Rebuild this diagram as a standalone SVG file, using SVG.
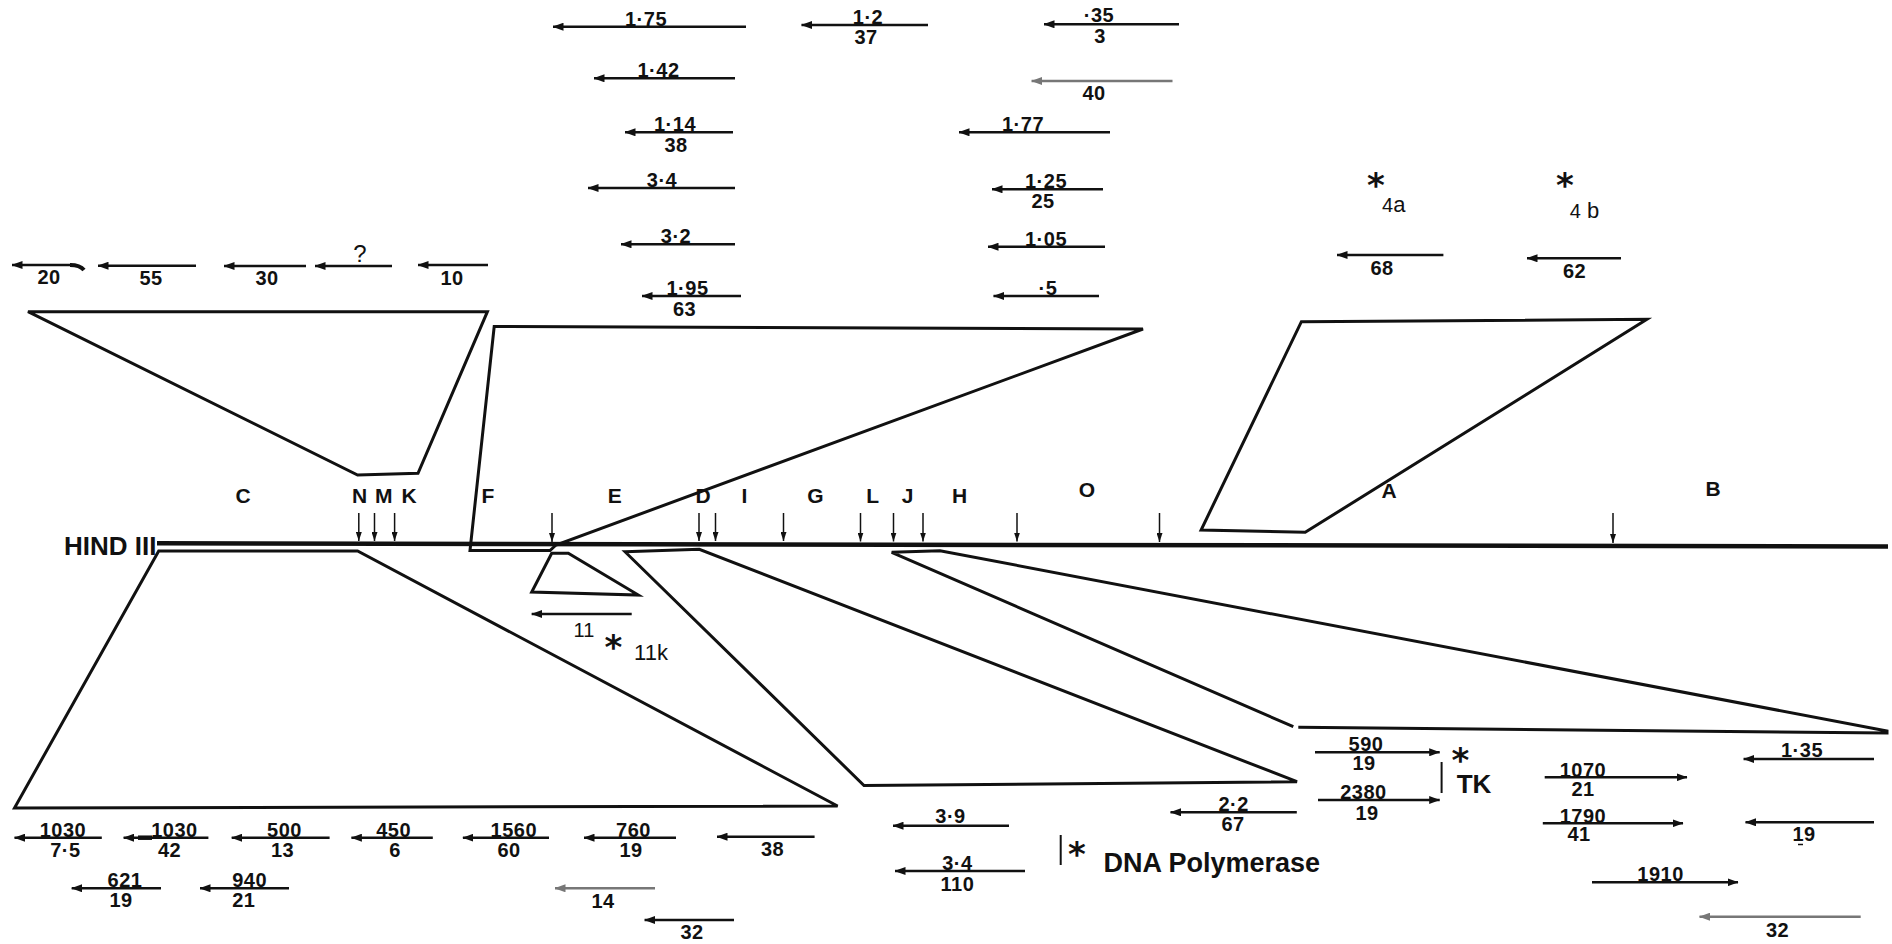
<svg xmlns="http://www.w3.org/2000/svg" width="1892" height="944" viewBox="0 0 1892 944">
<defs>
<style>
.ln{fill:none;stroke:#111;stroke-width:3;stroke-linejoin:miter}
.ml{fill:none;stroke:#111;stroke-width:4.5}
.ar{stroke:#111;stroke-width:2.5;marker-end:url(#ah)}
.arg{stroke:#777;stroke-width:2.5;marker-end:url(#ahg)}
.tk{stroke:#111;stroke-width:1.5;marker-end:url(#tkh)}
.bar{stroke:#111;stroke-width:2}
.n{font-family:"Liberation Sans Narrow","Liberation Sans",sans-serif;font-weight:bold;font-size:20px;text-anchor:middle;fill:#111;letter-spacing:0.5px}
.lb{font-family:"Liberation Sans",Arial,sans-serif;font-size:22px;text-anchor:middle;fill:#111}
.fl{font-weight:bold;font-size:21px}
.b{font-weight:bold}
.st{font-family:"DejaVu Sans",sans-serif;font-weight:bold;font-size:34px;text-anchor:middle;fill:#111}
</style>
<marker id="ah" viewBox="0 0 11 8" refX="10.5" refY="4" markerWidth="11" markerHeight="8" markerUnits="userSpaceOnUse" orient="auto"><path d="M0,0 L11,4 L0,8 Z" fill="#111"/></marker>
<marker id="ahg" viewBox="0 0 11 8" refX="10.5" refY="4" markerWidth="11" markerHeight="8" markerUnits="userSpaceOnUse" orient="auto"><path d="M0,0 L11,4 L0,8 Z" fill="#777"/></marker>
<marker id="tkh" viewBox="0 0 9 6" refX="9" refY="3" markerWidth="9" markerHeight="6" markerUnits="userSpaceOnUse" orient="auto"><path d="M0,0 L9,3 L0,6 Z" fill="#111"/></marker>
</defs>
<rect width="1892" height="944" fill="#fff"/>

<g id="map">
<text class="lb b" x="64" y="555" style="text-anchor:start;font-size:26px">HIND III</text>
<path class="ml" d="M157,543.3 L1888,546.5"/>
<g id="ticks">
<line class="tk" x1="358.8" y1="513" x2="358.8" y2="541"/>
<line class="tk" x1="374.5" y1="513" x2="374.5" y2="541"/>
<line class="tk" x1="394.6" y1="513" x2="394.6" y2="541"/>
<line class="tk" x1="552" y1="513" x2="552" y2="542"/>
<line class="tk" x1="699" y1="513" x2="699" y2="541"/>
<line class="tk" x1="715.5" y1="513" x2="715.5" y2="541"/>
<line class="tk" x1="783.5" y1="513" x2="783.5" y2="541"/>
<line class="tk" x1="860.5" y1="513" x2="860.5" y2="541.5"/>
<line class="tk" x1="893.5" y1="513" x2="893.5" y2="541.5"/>
<line class="tk" x1="923" y1="513" x2="923" y2="541.5"/>
<line class="tk" x1="1017" y1="513" x2="1017" y2="541.5"/>
<line class="tk" x1="1159.5" y1="513" x2="1159.5" y2="542"/>
<line class="tk" x1="1613" y1="513" x2="1613" y2="543"/>
</g>
<g id="fragment-letters">
<text class="lb fl" x="243" y="503">C</text>
<text class="lb fl" x="359.6" y="503">N</text>
<text class="lb fl" x="383.7" y="503">M</text>
<text class="lb fl" x="409" y="503">K</text>
<text class="lb fl" x="488" y="503">F</text>
<text class="lb fl" x="614.7" y="503">E</text>
<text class="lb fl" x="703" y="503">D</text>
<text class="lb fl" x="744.5" y="503">I</text>
<text class="lb fl" x="815.5" y="503">G</text>
<text class="lb fl" x="872.7" y="503">L</text>
<text class="lb fl" x="907.5" y="503">J</text>
<text class="lb fl" x="959.7" y="503">H</text>
<text class="lb fl" x="1087" y="497">O</text>
<text class="lb fl" x="1389" y="498">A</text>
<text class="lb fl" x="1713" y="496">B</text>
</g>
</g>

<g id="connectors">
<path id="poly-C-top" class="ln" d="M28,311.7 L487.4,311.7 L418,473.3 L357.6,475 Z"/>
<path id="poly-F-top" class="ln" d="M470,550.5 L494.2,326.5 L1143,329 L556,545 L550,550.5 Z"/>
<path id="poly-A-top" class="ln" d="M1301.4,321.7 L1646.9,319.3 L1305.2,532.3 L1201.1,530 Z"/>
<path id="poly-C-bottom" class="ln" d="M158.7,551 L357.6,551 L837.6,806 L14.5,808 Z"/>
<path id="poly-E-bottom" class="ln" d="M551.7,553.3 L568.3,553.3 L638.3,595 L531.7,592 Z"/>
<path id="poly-D-bottom" class="ln" d="M625,551.7 L699.3,549.3 L1297,781.7 L864,785.5 Z"/>
<path id="poly-J-bottom" class="ln" d="M1293.3,726.7 L891.7,552.3 L940,550.7 L1887,731 L1887,733 L1298.3,727.3"/>
</g>

<g id="top-left-arrows">
<g id="a20"><line class="ar" x1="72" y1="265" x2="12" y2="265"/><path d="M70,265 Q80,265 84,270" fill="none" stroke="#111" stroke-width="4"/><text class="n" x="49" y="284">20</text></g>
<g id="a55"><line class="ar" x1="196" y1="265.7" x2="98" y2="265.7"/><text class="n" x="151" y="285">55</text></g>
<g id="a30"><line class="ar" x1="306" y1="266" x2="224" y2="266"/><text class="n" x="267" y="285">30</text></g>
<g id="aQ"><line class="ar" x1="392" y1="266" x2="315" y2="266"/><text class="lb" x="360" y="262" style="font-size:24px">?</text></g>
<g id="a10"><line class="ar" x1="488" y1="265" x2="418" y2="265"/><text class="n" x="452" y="285">10</text></g>
</g>

<g id="top-mid-arrows">
<g id="a175"><line class="ar" x1="746" y1="26.7" x2="553" y2="26.7"/><text class="n" x="646" y="25.7">1·75</text></g>
<g id="a142"><line class="ar" x1="735" y1="78.3" x2="594" y2="78.3"/><text class="n" x="658.5" y="77.3">1·42</text></g>
<g id="a114"><line class="ar" x1="733" y1="132.3" x2="625" y2="132.3"/><text class="n" x="675" y="131.3">1·14</text><text class="n" x="676" y="151.5">38</text></g>
<g id="a34t"><line class="ar" x1="735" y1="188" x2="588" y2="188"/><text class="n" x="662" y="187">3·4</text></g>
<g id="a32t"><line class="ar" x1="735" y1="244.3" x2="621" y2="244.3"/><text class="n" x="676" y="243.3">3·2</text></g>
<g id="a195"><line class="ar" x1="741" y1="296" x2="642" y2="296"/><text class="n" x="687.5" y="295">1·95</text><text class="n" x="684.6" y="316">63</text></g>
<g id="a12"><line class="ar" x1="928" y1="25" x2="801.5" y2="25"/><text class="n" x="868" y="24">1·2</text><text class="n" x="866" y="43.5">37</text></g>
<g id="a035"><line class="ar" x1="1179" y1="24.3" x2="1044" y2="24.3"/><text class="n" x="1099" y="22">·35</text><text class="n" x="1100" y="43">3</text></g>
<g id="a40"><line class="arg" x1="1172.5" y1="81" x2="1031.6" y2="81"/><text class="n" x="1094" y="100">40</text></g>
<g id="a177"><line class="ar" x1="1110" y1="132.3" x2="959" y2="132.3"/><text class="n" x="1023" y="131.3">1·77</text></g>
<g id="a125"><line class="ar" x1="1103" y1="189.3" x2="992" y2="189.3"/><text class="n" x="1046" y="188.3">1·25</text><text class="n" x="1043" y="207.5">25</text></g>
<g id="a105"><line class="ar" x1="1105" y1="246.7" x2="988" y2="246.7"/><text class="n" x="1046" y="245.7">1·05</text></g>
<g id="a05"><line class="ar" x1="1099" y1="296" x2="993.5" y2="296"/><text class="n" x="1048" y="295">·5</text></g>
</g>

<g id="top-right">
<text class="st" x="1376" y="197">*</text>
<text class="lb" x="1393.7" y="212"><tspan style="font-size:20px">4</tspan>a</text>
<text class="st" x="1565" y="197">*</text>
<text class="lb" x="1584.4" y="218"><tspan style="font-size:20px">4</tspan> b</text>
<g id="a68"><line class="ar" x1="1443.4" y1="255" x2="1337" y2="255"/><text class="n" x="1382" y="274.5">68</text></g>
<g id="a62"><line class="ar" x1="1621" y1="258.3" x2="1527" y2="258.3"/><text class="n" x="1574.5" y="278">62</text></g>
</g>

<g id="e-fragment">
<g id="a11"><line class="ar" x1="631.7" y1="614" x2="531.7" y2="614"/><text class="lb" x="584" y="637" style="font-size:20px">11</text></g>
<text class="st" x="613.3" y="658.5">*</text>
<text class="lb" x="651" y="660">11k</text>
</g>

<g id="bottom-left-arrows">
<g id="b1030a"><line class="ar" x1="101.8" y1="837.7" x2="14.5" y2="837.7"/><text class="n" x="63" y="836.7">1030</text><text class="n" x="65.4" y="856.5">7·5</text></g>
<g id="b1030b"><line class="ar" x1="208.4" y1="837.7" x2="123.6" y2="837.7"/><line x1="138" y1="837.7" x2="152" y2="837.7" stroke="#111" stroke-width="4.5"/><text class="n" x="174.5" y="836.7">1030</text><text class="n" x="169.6" y="856.5">42</text></g>
<g id="b500"><line class="ar" x1="329.6" y1="837.7" x2="231.7" y2="837.7"/><text class="n" x="284.5" y="836.7">500</text><text class="n" x="282.6" y="856.5">13</text></g>
<g id="b450"><line class="ar" x1="432.8" y1="837.7" x2="351.4" y2="837.7"/><text class="n" x="393.6" y="836.7">450</text><text class="n" x="395" y="856.5">6</text></g>
<g id="b1560"><line class="ar" x1="549" y1="837.7" x2="462.9" y2="837.7"/><text class="n" x="513.8" y="836.7">1560</text><text class="n" x="509" y="856.5">60</text></g>
<g id="b760"><line class="ar" x1="676" y1="837.7" x2="584" y2="837.7"/><text class="n" x="633.5" y="836.7">760</text><text class="n" x="631" y="856.5">19</text></g>
<g id="b38"><line class="ar" x1="814.6" y1="836.7" x2="717" y2="836.7"/><text class="n" x="772.5" y="855.5">38</text></g>
<g id="b621"><line class="ar" x1="161" y1="888.3" x2="71.7" y2="888.3"/><text class="n" x="125" y="887.3">621</text><text class="n" x="121" y="907">19</text></g>
<g id="b940"><line class="ar" x1="289" y1="888.3" x2="200" y2="888.3"/><text class="n" x="249.6" y="887.3">940</text><text class="n" x="243.8" y="907">21</text></g>
<g id="b14"><line class="arg" x1="655" y1="888.3" x2="555" y2="888.3"/><text class="n" x="603" y="907.5">14</text></g>
<g id="b32"><line class="ar" x1="734" y1="920" x2="644.6" y2="920"/><text class="n" x="692" y="938.5">32</text></g>
</g>

<g id="bottom-mid-arrows">
<g id="b39"><line class="ar" x1="1009" y1="825.7" x2="893" y2="825.7"/><text class="n" x="950.5" y="822.7">3·9</text></g>
<g id="b34"><line class="ar" x1="1025" y1="871" x2="895" y2="871"/><text class="n" x="957.4" y="870">3·4</text><text class="n" x="957.4" y="890.5">110</text></g>
<g id="dna-pol"><line class="bar" x1="1060.7" y1="835" x2="1060.7" y2="865"/><text class="st" x="1077" y="865.5">*</text><text class="lb b" x="1103.5" y="872" style="text-anchor:start;font-size:27px">DNA Polymerase</text></g>
<g id="b22"><line class="ar" x1="1296.8" y1="812.3" x2="1170.5" y2="812.3"/><text class="n" x="1233.6" y="810.7">2·2</text><text class="n" x="1233" y="830.5">67</text></g>
</g>

<g id="bottom-right-arrows">
<g id="b590"><line class="ar" x1="1315" y1="752.3" x2="1439.7" y2="752.3"/><text class="n" x="1366" y="750.5">590</text><text class="n" x="1364" y="770">19</text></g>
<g id="b2380"><line class="ar" x1="1318" y1="800" x2="1439.7" y2="800"/><text class="n" x="1363.4" y="799">2380</text><text class="n" x="1367" y="820">19</text></g>
<g id="tk-label"><line class="bar" x1="1441.6" y1="762" x2="1441.6" y2="793"/><text class="st" x="1460.5" y="772">*</text><text class="lb b" x="1456.7" y="793" style="text-anchor:start;font-size:26px">TK</text></g>
<g id="b1070"><line class="ar" x1="1544.7" y1="777.3" x2="1687" y2="777.3"/><text class="n" x="1583" y="776.5">1070</text><text class="n" x="1583" y="796">21</text></g>
<g id="b1790"><line class="ar" x1="1542.8" y1="823.3" x2="1683" y2="823.3"/><text class="n" x="1583" y="822.5">1790</text><text class="n" x="1579" y="841">41</text></g>
<g id="b135"><line class="ar" x1="1874" y1="759" x2="1743.6" y2="759"/><text class="n" x="1802" y="757">1·35</text></g>
<g id="b19r"><line class="ar" x1="1874" y1="822.3" x2="1745.5" y2="822.3"/><text class="n" x="1804" y="840.5">19</text><line x1="1798" y1="844.5" x2="1803" y2="844.5" stroke="#111" stroke-width="1.5"/></g>
<g id="b1910"><line class="ar" x1="1592" y1="882.3" x2="1738" y2="882.3"/><text class="n" x="1660.6" y="880.7">1910</text></g>
<g id="b32r"><line class="arg" x1="1860.7" y1="916.7" x2="1699.5" y2="916.7"/><text class="n" x="1777.6" y="937">32</text></g>
</g>
</svg>
